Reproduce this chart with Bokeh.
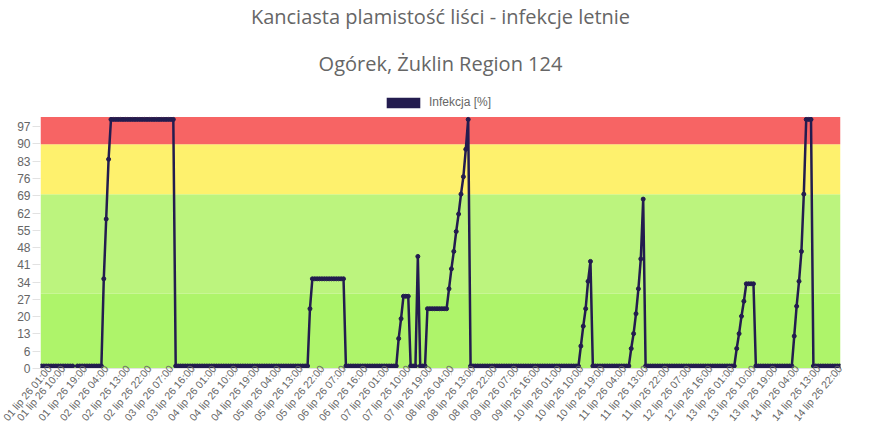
import math

import pandas as pd
from bokeh.embed import file_html
from bokeh.models import (BoxAnnotation, ColumnDataSource, FixedTicker, Legend,
                          LegendItem, Range1d, Title)
from bokeh.plotting import figure
from bokeh.resources import INLINE

title_main = "Kanciasta plamistość liści - infekcje letnie"
title_sub = "Ogórek, Żuklin Region 124"
series_name = "Infekcja [%]"

# hourly readings from 01 lip 26 01:00 to 14 lip 26 22:00 (None = missing)
first_hour = "2026-07-01 01:00"
infection = (
    [1] * 14 + [None] + [1] * 11
    + [36, 60, 84]
    + [100] * 27
    + [1] * 56
    + [24] + [36] * 14
    + [1] * 22
    + [12, 20] + [29] * 3 + [1] * 3 + [45] + [1] * 3
    + [24] * 9
    + [32, 40, 47, 55, 62, 70, 77, 88, 100]
    + [1] * 46
    + [9, 17, 24, 35, 43]
    + [1] * 16
    + [8, 14, 22, 32, 44, 68]
    + [1] * 38
    + [8, 14, 21, 27] + [34] * 4
    + [1] * 16
    + [13, 25, 35, 47, 70] + [100] * 3
    + [1] * 12
)

y_tick_labels = [0, 6, 13, 20, 27, 34, 41, 48, 55, 62, 69, 76, 83, 90, 97]
y_tick_step = 6.933
y_max = 101
x_tick_every = 9

# risk zones: (bottom, top, colour)
band_edges = [0, 30, 70, 90, y_max]
band_colors = ["#aef46a", "#bcf47e", "#fef16d", "#f76464"]

NAVY = "#231c4f"
GREY = "#666666"

hours = pd.date_range(first_hour, periods=len(infection), freq="h")
x = list(range(len(infection)))
y = [math.nan if v is None else v for v in infection]
source = ColumnDataSource({"x": x, "y": y})

x_ticks = x[::x_tick_every]
x_labels = {i: f"{hours[i]:%d} lip {hours[i]:%y %H:%M}" for i in x_ticks}
y_ticks = [i * y_tick_step for i in range(len(y_tick_labels))]

# the frame runs a little above 100 % so the legend can sit over the bands
p = figure(
    width=874,
    height=429,
    x_range=Range1d(-0.4, 333.3),
    y_range=Range1d(0, 110),
    output_backend="svg",
    toolbar_location=None,
    title=title_main,
    min_border_left=40,
    min_border_right=34,
    min_border_top=0,
    min_border_bottom=0,
)
p.title.align = "center"
p.title.text_font = "Open Sans"
p.title.text_font_size = "20px"
p.title.text_font_style = "normal"
p.title.text_color = GREY
p.title.standoff = 0

p.add_layout(Title(text=title_sub, align="center", text_font="Open Sans",
                   text_font_size="20px", text_font_style="normal",
                   text_color=GREY, standoff=36), "above")

for lo, hi, col in zip(band_edges[:-1], band_edges[1:], band_colors):
    p.add_layout(BoxAnnotation(bottom=lo, top=hi, fill_color=col, fill_alpha=1,
                               line_color=None, level="underlay"))

# zero-height area over the series: draws nothing, gives the legend its box
swatch = p.varea(x="x", y1="y", y2="y", source=source, fill_color=NAVY)
p.line("x", "y", source=source, line_color=NAVY, line_width=2.5)
p.scatter("x", "y", source=source, size=4, color=NAVY)

legend = Legend(
    items=[LegendItem(label=series_name, renderers=[swatch])],
    orientation="horizontal",
    location=(342, 259),
    border_line_color=None,
    background_fill_alpha=0,
    glyph_width=42,
    glyph_height=13,
    label_standoff=5,
    label_text_font="Liberation Sans",
    label_text_font_size="12px",
    label_text_color=GREY,
    padding=0,
    margin=0,
)
p.add_layout(legend)

p.grid.visible = False
p.outline_line_color = None

p.xaxis.ticker = FixedTicker(ticks=x_ticks)
p.xaxis.major_label_overrides = x_labels
p.xaxis.major_label_orientation = 0.87
p.xaxis.major_label_standoff = -9
p.xaxis.major_tick_out = 7
p.xaxis.axis_line_color = "#e2e2e2"

p.yaxis.ticker = FixedTicker(ticks=y_ticks)
p.yaxis.major_label_overrides = {t: str(l) for t, l in zip(y_ticks, y_tick_labels)}
p.yaxis.major_label_standoff = 2
p.yaxis.major_tick_out = 8
p.yaxis.axis_line_color = None

for ax, size in ((p.xaxis, "10.5px"), (p.yaxis, "12px")):
    ax.major_tick_in = 0
    ax.minor_tick_in = 0
    ax.minor_tick_out = 0
    ax.major_tick_line_color = "#e2e2e2"
    ax.major_label_text_font = "Liberation Sans"
    ax.major_label_text_font_size = size
    ax.major_label_text_color = GREY

open("out.html", "w", encoding="utf-8").write(file_html(p, INLINE))
